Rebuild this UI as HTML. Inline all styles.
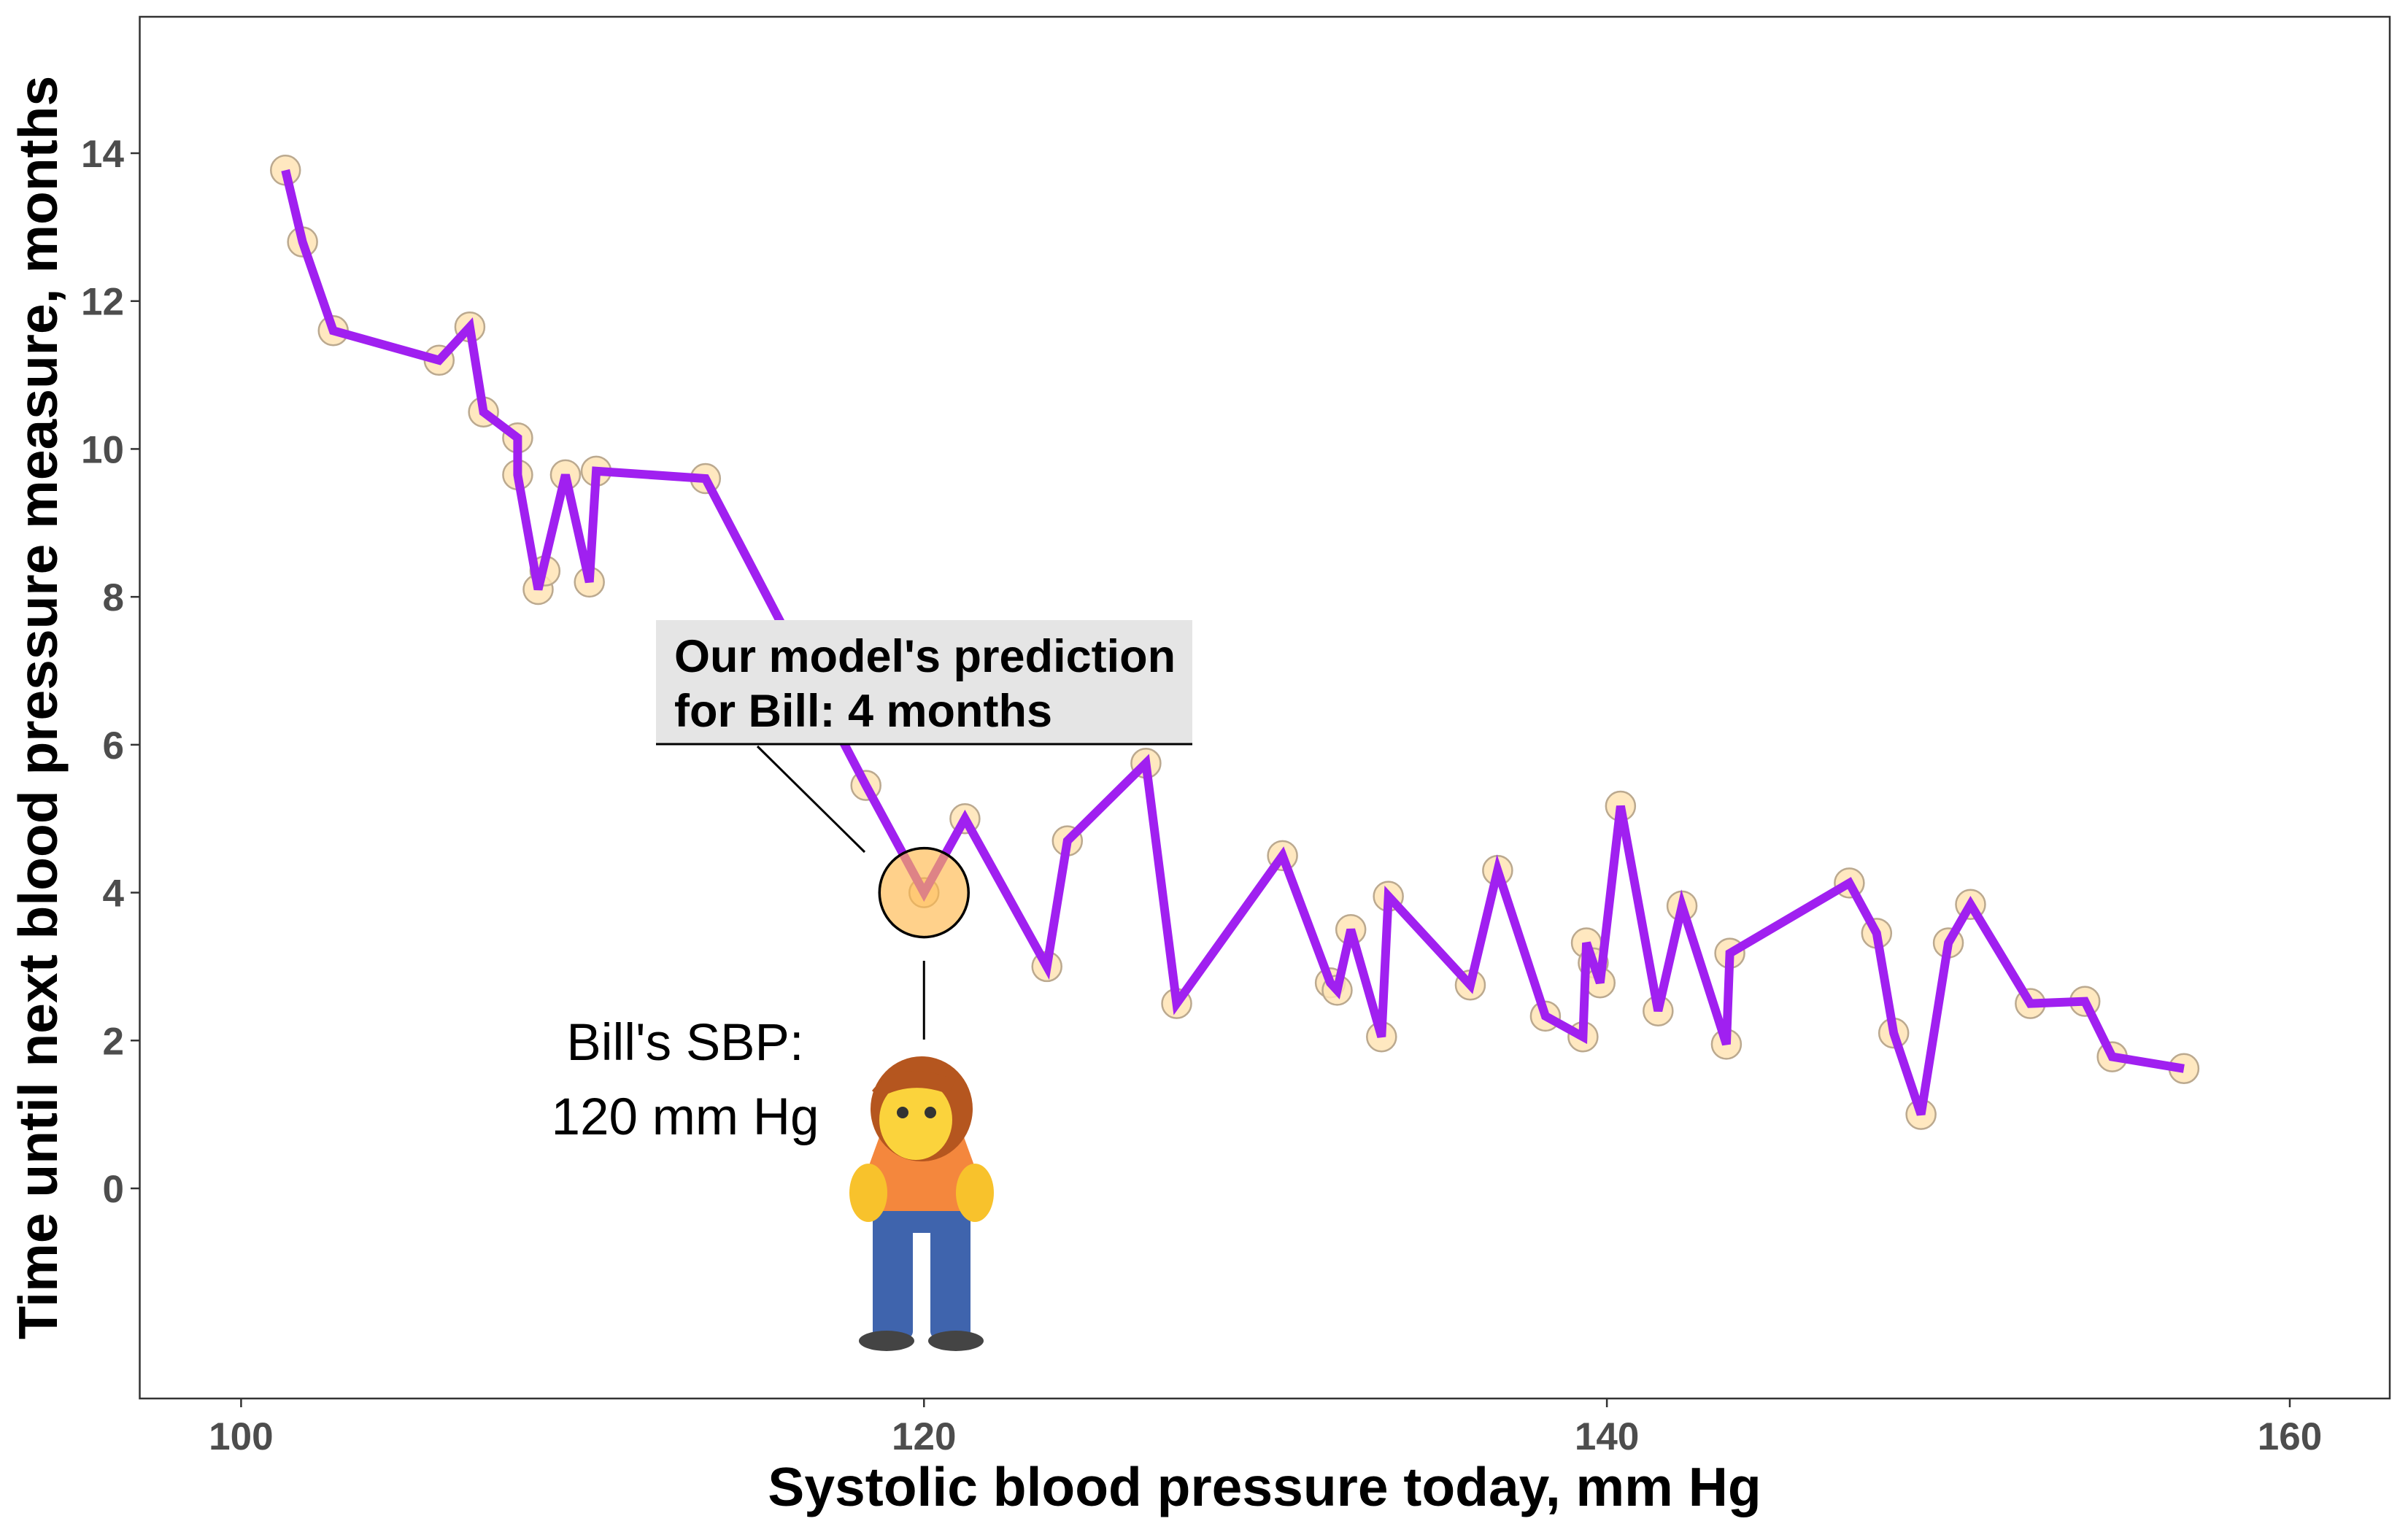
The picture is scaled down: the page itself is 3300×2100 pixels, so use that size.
<!DOCTYPE html>
<html><head><meta charset="utf-8">
<style>
html,body{margin:0;padding:0;background:#fff;}
svg{display:block;font-family:"Liberation Sans",Arial,sans-serif;}
</style></head>
<body>
<svg id="chart" width="3300" height="2100" viewBox="0 0 3300 2100" xmlns="http://www.w3.org/2000/svg">
<rect x="0" y="0" width="3300" height="2100" fill="#fff"/>
<rect x="191.5" y="23" width="3083.5" height="1894" fill="#fff" stroke="#333" stroke-width="2.5"/>
<g id="ticks"></g>
<g id="points"></g>
<path id="series-line" fill="none" stroke="#a020f0" stroke-width="12" stroke-linejoin="miter" stroke-linecap="butt"/>
<g id="annot"></g>
<text x="1733" y="2064" font-size="75" font-weight="bold" text-anchor="middle" fill="#000">Systolic blood pressure today, mm Hg</text>
<text transform="translate(78,970) rotate(-90)" font-size="75" font-weight="bold" text-anchor="middle" fill="#000">Time until next blood pressure measure, months</text>
</svg>
<script>
const sbpValues = [101.3,101.8,102.7,105.8,106.7,107.1,108.1,108.1,108.7,108.9,109.5,110.2,110.4,113.6,118.3,120,121.2,123.6,124.2,126.5,127.4,130.5,131.9,132.1,132.5,133.4,133.6,136,136.8,138.2,139.3,139.4,139.6,139.8,140.4,141.5,142.2,143.5,143.6,147.1,147.9,148.4,149.2,150,150.65,152.4,154,154.8,156.9];
const monthValues = [13.77,12.8,11.6,11.2,11.65,10.5,10.15,9.65,8.1,8.35,9.65,8.2,9.7,9.6,5.45,4.0,5.0,3.0,4.7,5.75,2.5,4.5,2.78,2.68,3.5,2.05,3.95,2.75,4.3,2.33,2.05,3.32,3.05,2.78,5.17,2.4,3.82,1.95,3.18,4.13,3.45,2.1,1.0,3.32,3.84,2.5,2.53,1.78,1.62];
const lineOrderSkip = [9,32];
const xTicks = [100,120,140,160];
const yTicks = [0,2,4,6,8,10,12,14];
const billSbp = 120, billPred = 4;

const NS="http://www.w3.org/2000/svg";
const X = v => 330.4 + (v-100)*(3138-330.4)/60;
const Y = v => 1629 - v*(1629-210)/14;
function mk(tag, attrs, parent){const e=document.createElementNS(NS,tag);for(const k in attrs)e.setAttribute(k,attrs[k]);parent.appendChild(e);return e;}

const tg=document.getElementById('ticks');
xTicks.forEach(t=>{
  const l=mk('line',{x1:X(t),x2:X(t),y1:1917,y2:1929,stroke:'#333','stroke-width':2.5},tg);
  
  
  const tx=mk('text',{x:X(t),y:1987,'font-size':53,'font-weight':'bold','text-anchor':'middle',fill:'#4d4d4d'},tg);
  tx.textContent=t;
  
  
});
yTicks.forEach(t=>{
  const l=mk('line',{x1:179,x2:191.5,y1:Y(t),y2:Y(t),stroke:'#333','stroke-width':2.5},tg);
  
  
  const tx=mk('text',{x:170,y:Y(t)+19,'font-size':53,'font-weight':'bold','text-anchor':'end',fill:'#4d4d4d'},tg);
  tx.textContent=t;
  
  
});

const pg=document.getElementById('points');
sbpValues.forEach((v,i)=>{
  const c=mk('circle',{cx:X(v),cy:Y(monthValues[i]),r:20,fill:'#ffe4b5','fill-opacity':0.85,stroke:'#bba98f','stroke-width':2.5},pg);
  
  
});
let d='';
sbpValues.forEach((v,i)=>{
  if(lineOrderSkip.includes(i))return;
  d+=(d?'L':'M')+X(v).toFixed(1)+','+Y(monthValues[i]).toFixed(1);
});
document.getElementById('series-line').setAttribute('d',d);

const ag=document.getElementById('annot');
const bx=mk('rect',{x:899,y:850,width:735,height:170,fill:'#e5e5e5'},ag);


mk('line',{x1:899,x2:1634,y1:1020,y2:1020,stroke:'#000','stroke-width':3},ag);
const t1=mk('text',{x:924,y:921,'font-size':63,'font-weight':'bold',fill:'#000'},ag);
t1.textContent="Our model's prediction";


const t2=mk('text',{x:924,y:996,'font-size':63,'font-weight':'bold',fill:'#000'},ag);
t2.textContent="for Bill: 4 months";


mk('line',{x1:1038,y1:1023,x2:1185,y2:1168,stroke:'#000','stroke-width':3},ag);
const bc=mk('circle',{cx:X(billSbp),cy:Y(billPred),r:61,fill:'#ffb84d','fill-opacity':0.65,stroke:'#000','stroke-width':3.5},ag);


mk('line',{x1:X(billSbp),x2:X(billSbp),y1:1317,y2:1425,stroke:'#000','stroke-width':3},ag);
const b1=mk('text',{x:939,y:1453,'font-size':71,'text-anchor':'middle',fill:'#000'},ag);
b1.textContent="Bill's SBP:";


const b2=mk('text',{x:939,y:1555,'font-size':71,'text-anchor':'middle',fill:'#000'},ag);
b2.textContent="120 mm Hg";



// person figure
const pf=mk('g',{},ag);


mk('rect',{x:1196,y:1655,width:55,height:180,rx:10,fill:'#3f64ad'},pf);
mk('rect',{x:1275,y:1655,width:55,height:180,rx:10,fill:'#3f64ad'},pf);
mk('rect',{x:1205,y:1640,width:115,height:50,fill:'#3f64ad'},pf);
mk('ellipse',{cx:1215,cy:1838,rx:38,ry:14,fill:'#444'},pf);
mk('ellipse',{cx:1310,cy:1838,rx:38,ry:14,fill:'#444'},pf);
mk('path',{d:'M1190,1600 L1210,1545 Q1263,1525 1316,1545 L1336,1600 L1320,1610 L1320,1660 L1206,1660 L1206,1610 Z',fill:'#f4873d'},pf);
mk('ellipse',{cx:1190,cy:1635,rx:26,ry:40,fill:'#f8c22c'},pf);
mk('ellipse',{cx:1336,cy:1635,rx:26,ry:40,fill:'#f8c22c'},pf);
mk('ellipse',{cx:1263,cy:1520,rx:70,ry:72,fill:'#b5561f'},pf);
mk('ellipse',{cx:1255,cy:1535,rx:50,ry:55,fill:'#fbd33c'},pf);
mk('circle',{cx:1237,cy:1525,r:8,fill:'#333'},pf);
mk('circle',{cx:1275,cy:1525,r:8,fill:'#333'},pf);
mk('path',{d:'M1195,1495 Q1230,1450 1310,1480 L1300,1500 Q1250,1480 1205,1505 Z',fill:'#b5561f'},pf);
</script>
</body></html>
